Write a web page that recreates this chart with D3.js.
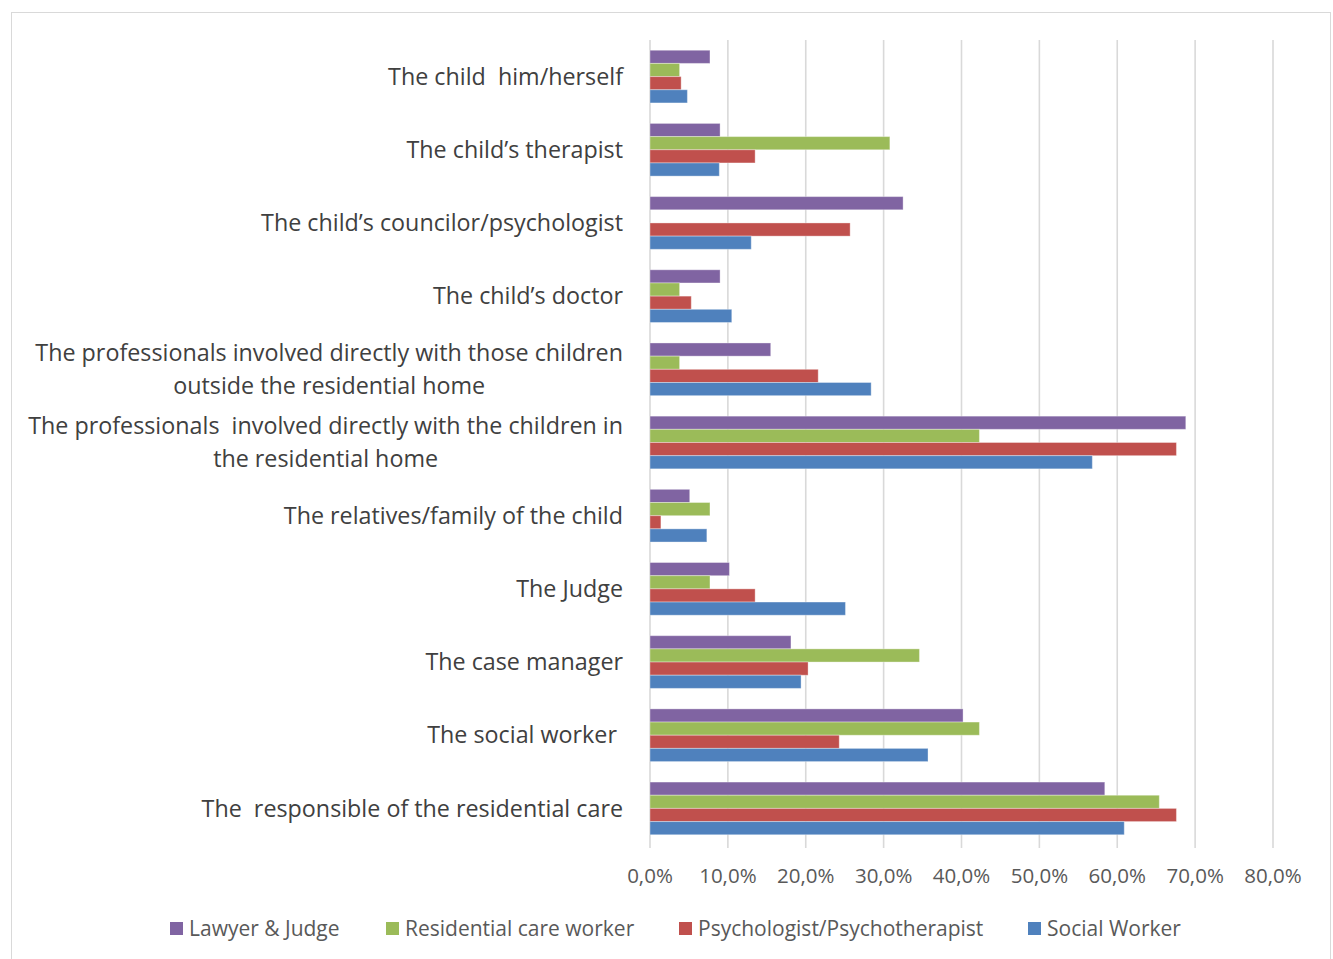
<!DOCTYPE html>
<html>
<head>
<meta charset="utf-8">
<script src="https://cdn.jsdelivr.net/npm/d3@7"></script>
<style>
  html, body { margin: 0; padding: 0; background: #fff; }
  svg text { font-family: "Open Sans", Lato, sans-serif; white-space: pre; }
</style>
</head>
<body>
<svg id="chart" width="1333" height="959"></svg>
<script>
// Categories from top to bottom; multi-line labels split with "\n"
const categories = [
  "The child  him/herself",
  "The child’s therapist",
  "The child’s councilor/psychologist",
  "The child’s doctor",
  "The professionals involved directly with those children\noutside the residential home",
  "The professionals  involved directly with the children in\nthe residential home",
  "The relatives/family of the child",
  "The Judge",
  "The case manager",
  "The social worker ",
  "The  responsible of the residential care"
];

const seriesNames = ["Lawyer & Judge", "Residential care worker", "Psychologist/Psychotherapist", "Social Worker"];
const seriesColors = ["#8064A2", "#9BBB59", "#C0504D", "#4F81BD"];

// Percentages per series, in category order
const lawyerJudge       = [7.7, 9.0, 32.5, 9.0, 15.5, 68.8, 5.1, 10.2, 18.1, 40.2, 58.4];
const residentialWorker = [3.8, 30.8, 0.0, 3.8, 3.8, 42.3, 7.7, 7.7, 34.6, 42.3, 65.4];
const psychologist      = [4.0, 13.5, 25.7, 5.3, 21.6, 67.6, 1.4, 13.5, 20.3, 24.3, 67.6];
const socialWorker      = [4.8, 8.9, 13.0, 10.5, 28.4, 56.8, 7.3, 25.1, 19.4, 35.7, 60.9];

const seriesValues = [lawyerJudge, residentialWorker, psychologist, socialWorker];
const xTicks = [0, 10, 20, 30, 40, 50, 60, 70, 80];

const svg = d3.select("#chart");

// Outer chart frame
svg.append("rect")
  .attr("x", 11.5).attr("y", 12.5)
  .attr("width", 1319).attr("height", 960)
  .attr("fill", "none").attr("stroke", "#d9d9d9").attr("stroke-width", 1);

const plot = { left: 650, right: 1273, top: 40, bottom: 845 };

const x = d3.scaleLinear().domain([0, 80]).range([plot.left, plot.right]);
const y = d3.scaleBand().domain(categories).range([plot.top, plot.bottom]).paddingInner(0.28).paddingOuter(0.14);
const ySub = d3.scaleBand().domain(d3.range(seriesNames.length)).range([0, y.bandwidth()]);

// Vertical gridlines
svg.append("g")
  .selectAll("line")
  .data(xTicks)
  .join("line")
  .attr("x1", d => x(d)).attr("x2", d => x(d))
  .attr("y1", plot.top).attr("y2", plot.bottom + 3)
  .attr("stroke", "#d9d9d9").attr("stroke-width", 1.6);

// Bars
const rows = categories.flatMap((c, ci) =>
  seriesValues.map((vals, si) => ({ c, si, v: vals[ci] })));

svg.append("g")
  .selectAll("rect")
  .data(rows.filter(d => d.v > 0))
  .join("rect")
  .attr("x", x(0))
  .attr("y", d => y(d.c) + ySub(d.si))
  .attr("width", d => x(d.v) - x(0))
  .attr("height", ySub.bandwidth())
  .attr("fill", d => seriesColors[d.si])
  .attr("stroke", "rgba(255,255,255,0.35)")
  .attr("stroke-width", 1);

// Category labels (right aligned block, lines centered on each other)
const labelRight = 623;
const catG = svg.append("g").attr("font-size", 23.3).attr("fill", "#404040");
categories.forEach(c => {
  const lines = c.split("\n");
  const cy = y(c) + y.bandwidth() / 2;
  const lh = 33;
  const g = catG.append("g");
  const texts = lines.map((ln, i) => g.append("text")
    .attr("y", cy + (i - (lines.length - 1) / 2) * lh)
    .attr("dy", "0.35em")
    .text(ln));
  const widths = texts.map(t => t.node().getComputedTextLength());
  const maxW = d3.max(widths);
  texts.forEach((t, i) => {
    t.attr("x", labelRight - maxW + (maxW - widths[i]) / 2);
  });
});

// X axis tick labels
svg.append("g")
  .attr("font-size", 20.5).attr("fill", "#595959").attr("text-anchor", "middle")
  .selectAll("text")
  .data(xTicks)
  .join("text")
  .attr("x", d => x(d))
  .attr("y", 876)
  .attr("dy", "0.35em")
  .text(d => d3.format(".1f")(d).replace(".", ",") + "%");

// Legend
const legendX = [170, 386, 679, 1028];
const legend = svg.append("g").attr("font-size", 21).attr("fill", "#595959");
seriesNames.forEach((name, i) => {
  legend.append("rect")
    .attr("x", legendX[i]).attr("y", 922)
    .attr("width", 13).attr("height", 13)
    .attr("fill", seriesColors[i]);
  legend.append("text")
    .attr("x", legendX[i] + 19).attr("y", 929)
    .attr("dy", "0.35em")
    .text(name);
});
</script>
</body>
</html>
